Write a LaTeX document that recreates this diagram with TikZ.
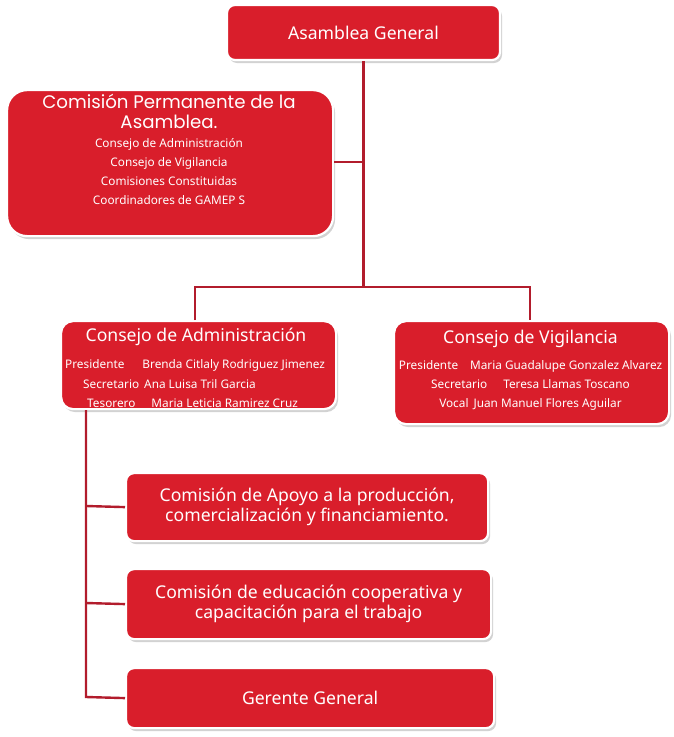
\documentclass[tikz,border=0pt]{standalone}
\usepackage{fontspec}
\setmainfont{Noto Sans}
\newfontfamily\titlefont{Poppins}
\usetikzlibrary{shadows}
\definecolor{boxred}{HTML}{D91E2B}
\definecolor{linered}{HTML}{B21C2C}
\tikzset{
  box/.style={draw=white, line width=2.2pt, fill=boxred, text=white,
    rounded corners=8pt, inner sep=0pt,
    drop shadow={shadow xshift=2pt, shadow yshift=-3pt, fill=black!35, opacity=0.5}},
  conn/.style={draw=linered, line width=2.4pt},
  txt/.style={text=white, inner sep=0pt},
  big/.style={font=\fontsize{17.6}{20.5}\selectfont},
  small/.style={font=\fontsize{11.8}{19}\selectfont},
}
\begin{document}
\begin{tikzpicture}[x=1pt,y=-1pt]
\useasboundingbox (0,0) rectangle (674,737);
% boxes
\node[box, big, minimum width=273pt, minimum height=55pt] (ag) at (363.5,32.5)
  {Asamblea General};
\node[box, rounded corners=20pt, minimum width=326pt, minimum height=146pt, anchor=north west] (cp) at (6,89) {};
\node[txt, align=center, anchor=north, font=\titlefont\fontsize{18.2}{20.5}\selectfont] (cpt) at (169,93.5)
  {Comisión Permanente de la\\Asamblea.};
\node[txt, small, align=center, anchor=north] (cpl) at (169,138.5)
  {Consejo de Administración\\Consejo de Vigilancia\\Comisiones Constituidas\\Coordinadores de GAMEP S};
\node[box, rounded corners=12pt, minimum width=275pt, minimum height=88pt, anchor=north west] (ca) at (60,320) {};
\node[txt, big, anchor=north] (cat) at (196,328)
  {Consejo de Administración};
\node[txt, small, anchor=west] (ca1) at (65,365)
  {Presidente\hspace{18pt}Brenda Citlaly Rodriguez Jimenez};
\node[txt, small, anchor=west] (ca2) at (83,384)
  {Secretario\hspace{5pt}Ana Luisa Tril Garcia};
\node[txt, small, anchor=west] (ca3) at (87,403)
  {Tesorero\hspace{16pt}Maria Leticia Ramirez Cruz};
\node[box, rounded corners=12pt, minimum width=275pt, minimum height=103pt, anchor=north west] (cv) at (393,320) {};
\node[txt, big, anchor=north] (cvt) at (530.5,330)
  {Consejo de Vigilancia};
\node[txt, small, anchor=north, align=center] (cvl) at (530.5,360)
  {Presidente\hspace{12pt}Maria Guadalupe Gonzalez Alvarez\\
   Secretario\hspace{16pt}Teresa Llamas Toscano\\
   Vocal\hspace{5pt}Juan Manuel Flores Aguilar};
\node[box, big, minimum width=362pt, minimum height=68pt, align=center, anchor=north west] (ap) at (125,472)
  {Comisión de Apoyo a la producción,\\comercialización y financiamiento.};
\node[box, big, minimum width=365pt, minimum height=70pt, align=center, anchor=north west] (ed) at (125,568)
  {Comisión de educación cooperativa y\\capacitación para el trabajo};
\node[box, big, minimum width=368pt, minimum height=60pt, anchor=north west] (gg) at (125,667)
  {Gerente General};
% connectors
\coordinate (j1) at (363.5,287);
\coordinate (j2) at (363.5,162);
\coordinate (jl) at (195,287);
\coordinate (jr) at (530,287);
\coordinate (d1) at (86,506);
\coordinate (d2) at (86,603);
\coordinate (d3) at (86,697);
\draw[conn] (ag.south) -- (j1);
\draw[conn] (cp.east |- j2) -- (j2);
\draw[conn] (jl |- ca.north) -- (jl) -- (jr) -- (jr |- cv.north);
\draw[conn] (d1 |- ca.south) -- (d3) -- (gg.west);
\draw[conn] (d1) -- (ap.west);
\draw[conn] (d2) -- (ed.west);
\end{tikzpicture}
\end{document}
